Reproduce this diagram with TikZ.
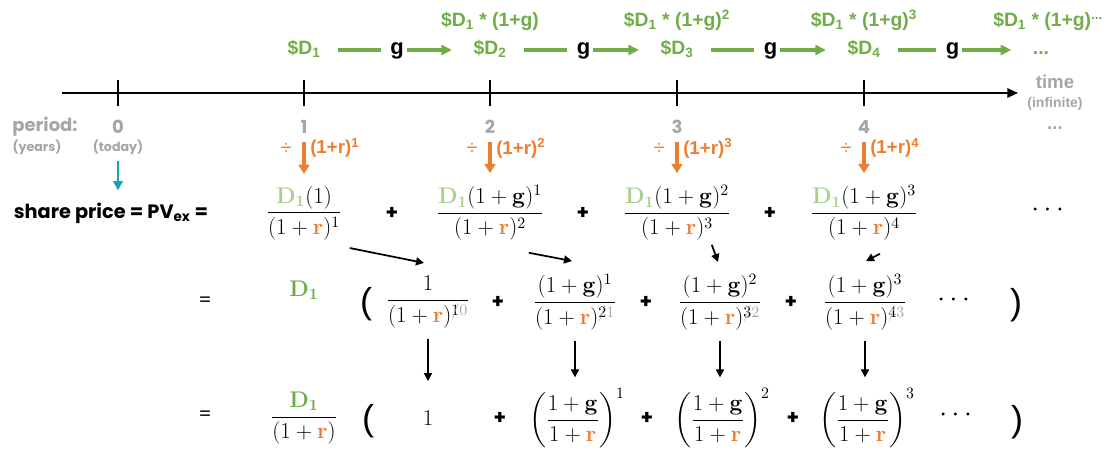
\RequirePackage{fix-cm}
\documentclass[tikz,border=0pt]{standalone}
\usepackage{amsmath}
\usepackage[no-math]{fontspec}
\setmainfont{Poppins}
\newfontfamily\arialf{Liberation Sans}
\usetikzlibrary{arrows.meta,positioning,calc}
\definecolor{dgreen}{RGB}{112,173,71}
\definecolor{lgreen}{RGB}{169,209,142}
\definecolor{orng}{RGB}{237,125,49}
\definecolor{lgrey}{RGB}{166,166,166}
\definecolor{tealc}{RGB}{24,160,188}
% old exponent struck out, new one in grey
\newcommand{\chg}[2]{#1\llap{\color{lgrey}$\scriptstyle/$}{\color{lgrey}#2}}
\newcommand{\br}{{\color{orng}\mathbf{r}}}

\begin{document}
\begin{tikzpicture}[x=0.75pt,y=-0.75pt,
  grn/.style={font=\arialf\bfseries\fontsize{14.5}{17}\selectfont,text=dgreen,inner sep=0pt,text height=10pt,text depth=3pt},
  gl/.style={font=\arialf\bfseries\fontsize{16.5}{19}\selectfont,inner sep=0pt,text height=10pt,text depth=3pt},
  per/.style={font=\bfseries\fontsize{13.5}{16}\selectfont,text=lgrey,inner sep=0pt},
  persub/.style={font=\bfseries\fontsize{9.5}{11}\selectfont,text=lgrey,inner sep=0pt},
  tlab/.style={font=\arialf\bfseries\fontsize{14}{16}\selectfont,text=lgrey,inner sep=0pt},
  tsub/.style={font=\arialf\bfseries\fontsize{10.5}{12}\selectfont,text=lgrey,inner sep=0pt},
  orl/.style={font=\arialf\bfseries\fontsize{14}{16}\selectfont,text=orng,inner sep=0pt},
  eq/.style={font=\fontsize{17}{20}\selectfont,inner sep=0pt},
  pl/.style={font=\bfseries\fontsize{15}{18}\selectfont,inner sep=0pt},
  txt/.style={font=\fontsize{14}{17}\selectfont,inner sep=0pt},
  bigp/.style={font=\arialf\fontsize{27}{30}\selectfont,inner sep=0pt},
  tline/.style={line width=1.6pt},
  gline/.style={dgreen,line width=2.3pt},
  garr/.style={gline,-{Triangle[length=8pt,width=7.5pt]}},
  oarr/.style={orng,line width=2.3pt,-{Triangle[length=7pt,width=8pt]}},
  tarr/.style={tealc,line width=2pt,-{Triangle[length=7pt,width=7pt]}},
  karr/.style={line width=1.3pt,-{Triangle[length=6pt,width=6pt]}}]
\useasboundingbox (0,0) rectangle (1114,453);

% time line
\coordinate (tstart) at (62,93);
\coordinate (tend) at (1018,93);
\draw[tline,-{Triangle[length=8pt,width=7pt]}] (tstart) -- (tend);
\foreach \x in {118,304,490,677,864} \draw[tline] (\x,80) -- (\x,106);

% dividends on top
\node[grn] (d1) at (304,50) {\$D\textsubscript{1}};
\node[grn] (d2) at (490,50) {\$D\textsubscript{2}};
\node[grn] (d3) at (677,50) {\$D\textsubscript{3}};
\node[grn] (d4) at (864,50) {\$D\textsubscript{4}};
\node[grn] (dn) at (1041,50) {...};
\node[grn] (c2) at (490,22) {\$D\textsubscript{1} * (1+g)};
\node[grn] (c3) at (677,22) {\$D\textsubscript{1} * (1+g)\textsuperscript{2}};
\node[grn] (c4) at (864,22) {\$D\textsubscript{1} * (1+g)\textsuperscript{3}};
\node[grn,anchor=west] (cn) at (993,22) {\$D\textsubscript{1} * (1+g)\textsuperscript{...}};
\foreach \i/\j in {1/2,2/3,3/4,4/n} {
  \node[gl] (g\i) at ($(d\i)!0.5!(d\j)$) {g};
  \draw[gline,shorten <=13pt,shorten >=7pt] (d\i) -- (g\i);
  \draw[garr,shorten <=2pt,shorten >=16pt] (g\i) -- (d\j);
}
\node[tlab] (time) at (1055,82) {time};
\node[tsub] (inf) at (1055,104) {(infinite)};
\node[tlab] (tdots) at (1055,128) {...};

% periods
\node[per] (per) at (45,127) {period:};
\node[persub] (yrs) at (37,147) {(years)};
\node[per] (p0) at (118,127) {0};
\node[persub] (tod) at (118,147) {(today)};
\foreach \x/\n in {304/1,490/2,677/3,864/4} \node[per] (p\n) at (\x,127) {\n};

% first line
\node[font=\bfseries\fontsize{14.5}{17}\selectfont,inner sep=0pt] (sp) at (111,213) {share price = PV\textsubscript{ex} =};
\node[eq] (f11) at (304,213) {$\dfrac{{\color{lgreen}\mathbf{D_1}}(1)}{(1+\br)^1}$};
\node[eq] (f12) at (490,213) {$\dfrac{{\color{lgreen}\mathbf{D_1}}(1+\mathbf{g})^1}{(1+\br)^2}$};
\node[eq] (f13) at (677,213) {$\dfrac{{\color{lgreen}\mathbf{D_1}}(1+\mathbf{g})^2}{(1+\br)^3}$};
\node[eq] (f14) at (864,213) {$\dfrac{{\color{lgreen}\mathbf{D_1}}(1+\mathbf{g})^3}{(1+\br)^4}$};
\node[pl] (pa1) at (392,213) {+};
\node[pl] (pa2) at (583,213) {+};
\node[pl] (pa3) at (770,213) {+};
\node[eq,font=\fontsize{21}{24}\selectfont] (fdots) at (1050,210) {$\cdots$};
\draw[tarr,shorten <=5pt,shorten >=9pt] (tod.south) -- (tod.south |- sp.north);

% discounting
\foreach \x/\n in {304/1,490/2,677/3,864/4} {
  \node[orl,font=\arialf\fontsize{15}{17}\selectfont] (dv\n) at (\x-18,149) {÷};
  \node[orl,anchor=west] (rr\n) at (\x+6,148) {(1+r)\textsuperscript{\n}};
  \draw[oarr,shorten <=6pt,shorten >=9pt] (p\n.south) -- (f1\n.north);
}

% second line
\node[txt] (e2) at (205,302) {=};
\node[eq] (dd2) at (304,290) {$\color{dgreen}\mathbf{D_1}$};
\node[bigp] (lp2) at (366,304) {(};
\node[eq] (f21) at (428,302) {$\dfrac{1}{(1+\br)^{\chg10}}$};
\node[eq] (f22) at (575,302) {$\dfrac{(1+\mathbf{g})^1}{(1+\br)^{\chg21}}$};
\node[eq] (f23) at (720,302) {$\dfrac{(1+\mathbf{g})^2}{(1+\br)^{\chg32}}$};
\node[eq] (f24) at (865,302) {$\dfrac{(1+\mathbf{g})^3}{(1+\br)^{\chg43}}$};
\node[pl] (pb1) at (498,302) {+};
\node[pl] (pb2) at (646,302) {+};
\node[pl] (pb3) at (791,302) {+};
\node[eq,font=\fontsize{21}{24}\selectfont] (dots2) at (956,300) {$\cdots$};
\node[bigp] (rp2) at (1016,305) {)};

% third line
\node[txt] (e3) at (205,416) {=};
\node[eq] (f30) at (304,418) {$\dfrac{\color{dgreen}\mathbf{D_1}}{(1+\br)}$};
\node[bigp] (lp3) at (368,421) {(};
\node[eq] (one) at (428,418) {$1$};
\node[eq] (f32) at (577,418) {$\left(\dfrac{1+\mathbf{g}}{1+\br}\right)^1$};
\node[eq] (f33) at (722,418) {$\left(\dfrac{1+\mathbf{g}}{1+\br}\right)^2$};
\node[eq] (f34) at (867,418) {$\left(\dfrac{1+\mathbf{g}}{1+\br}\right)^3$};
\node[pl] (pc1) at (500,418) {+};
\node[pl] (pc2) at (647,418) {+};
\node[pl] (pc3) at (793,418) {+};
\node[eq,font=\fontsize{21}{24}\selectfont] (dots3) at (958,415) {$\cdots$};
\node[bigp] (rp3) at (1017,422) {)};

% arrows between the lines
\draw[karr] ([shift={(8,8)}]f11.south east) -- ([shift={(-4,-13)}]f21.north);
\draw[karr] ([shift={(-15,12)}]f12.south east) -- ([shift={(-3,-13)}]f22.north);
\draw[karr] ([shift={(-19,4)}]f13.south east) -- ([shift={(-2,-12)}]f23.north);
\draw[karr] ([shift={(16,13)}]f14.south) -- ([shift={(1,-13)}]f24.north);
\draw[karr,shorten <=8pt,shorten >=22pt] (f21.south) -- (one.north);
\foreach \i in {2,3,4}
  \draw[karr,shorten <=8pt,shorten >=8pt] (f2\i.south) -- (f2\i.south |- f3\i.north);
\end{tikzpicture}
\end{document}
